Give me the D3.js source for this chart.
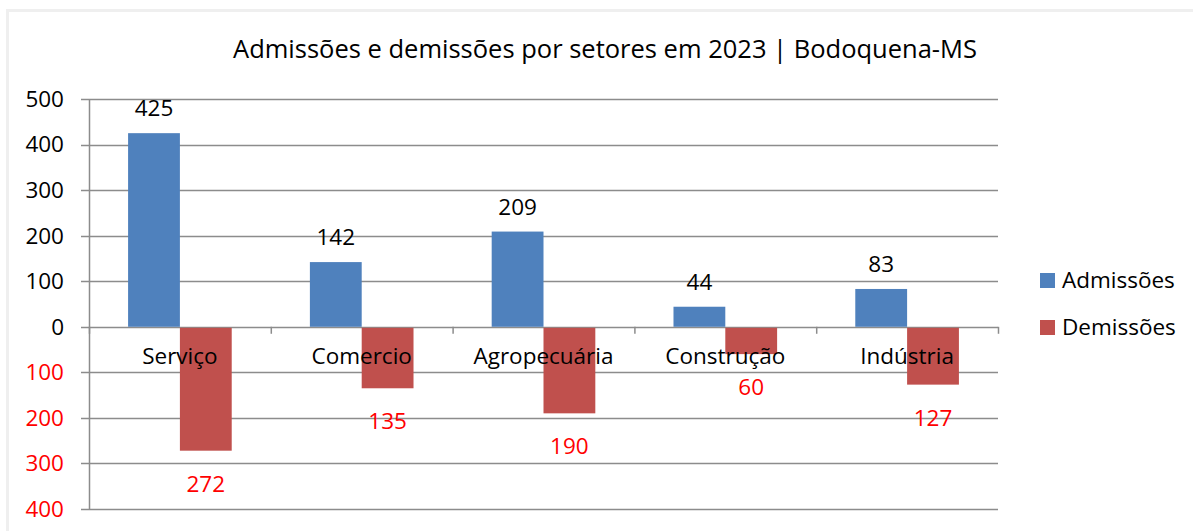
<!DOCTYPE html>
<html>
<head>
<meta charset="utf-8">
<script src="https://cdn.jsdelivr.net/npm/d3@7"></script>
<style>
  body { margin: 0; background: #fff; }
  text { font-family: "Open Sans", "Noto Sans", sans-serif; }
</style>
</head>
<body>
<div id="chart-area"></div>
<script>

// Data
var sectors = ["Serviço", "Comercio", "Agropecuária", "Construção", "Indústria"];
var admissoes = [425, 142, 209, 44, 83];
var demissoes = [272, 135, 190, 60, 127];
var yTicks = [-400, -300, -200, -100, 0, 100, 200, 300, 400, 500];
var seriesNames = ["Admissões", "Demissões"];
var seriesColors = ["#4F81BD", "#C0504D"];

var W = 1193, H = 531;
var margin = {top: 99, right: 195, bottom: 22, left: 89};
var width = W - margin.left - margin.right,
    height = H - margin.top - margin.bottom;
var fs = 22.5;

var svg = d3.select("#chart-area").append("svg")
    .attr("width", W)
    .attr("height", H);

// outer frame
svg.append("rect")
    .attr("x", 7.5).attr("y", 10.5)
    .attr("width", 1200).attr("height", 540)
    .attr("fill", "none")
    .attr("stroke", "#efefef")
    .attr("stroke-width", 3);

svg.append("text")
    .attr("x", 605)
    .attr("y", 58)
    .attr("text-anchor", "middle")
    .attr("font-size", 25.5)
    .attr("fill", "#000")
    .text("Admissões e demissões por setores em 2023 | Bodoquena-MS");

var g = svg.append("g")
    .attr("transform", "translate(" + margin.left + "," + margin.top + ")");

var x = d3.scaleBand()
    .domain(sectors)
    .range([0, width]);

var y = d3.scaleLinear()
    .domain([-400, 500])
    .range([height, 0]);

// gridlines
g.selectAll(".grid")
    .data(yTicks)
    .enter().append("line")
    .attr("class", "grid")
    .attr("x1", -8)
    .attr("x2", width)
    .attr("y1", function(d) { return Math.round(y(d)) + 0.5; })
    .attr("y2", function(d) { return Math.round(y(d)) + 0.5; })
    .attr("stroke", "#8c8c8c")
    .attr("stroke-width", 1.5);

// y axis line
g.append("line")
    .attr("x1", 0.5).attr("x2", 0.5)
    .attr("y1", 0).attr("y2", height)
    .attr("stroke", "#8c8c8c")
    .attr("stroke-width", 1.5);

// y tick labels (negatives drawn in red without sign)
g.selectAll(".ytick")
    .data(yTicks)
    .enter().append("text")
    .attr("class", "ytick")
    .attr("x", -25)
    .attr("y", function(d) { return y(d); })
    .attr("dy", "0.35em")
    .attr("text-anchor", "end")
    .attr("font-size", fs)
    .attr("fill", function(d) { return d < 0 ? "#ff0000" : "#000"; })
    .text(function(d) { return Math.abs(d); });

// category tick marks on zero line
g.selectAll(".xtick")
    .data(d3.range(sectors.length + 1))
    .enter().append("line")
    .attr("x1", function(i) { return i * x.bandwidth() + 0.5; })
    .attr("x2", function(i) { return i * x.bandwidth() + 0.5; })
    .attr("y1", y(0))
    .attr("y2", y(0) + 7)
    .attr("stroke", "#8c8c8c")
    .attr("stroke-width", 1.5);

var barW = x.bandwidth() * 0.285;

// bars
g.selectAll(".adm")
    .data(admissoes)
    .enter().append("rect")
    .attr("class", "adm")
    .attr("x", function(d, i) { return x(sectors[i]) + x.bandwidth() / 2 - barW; })
    .attr("y", function(d) { return y(d); })
    .attr("width", barW)
    .attr("height", function(d) { return y(0) - y(d); })
    .attr("fill", seriesColors[0]);

g.selectAll(".dem")
    .data(demissoes)
    .enter().append("rect")
    .attr("class", "dem")
    .attr("x", function(d, i) { return x(sectors[i]) + x.bandwidth() / 2; })
    .attr("y", y(0) + 1)
    .attr("width", barW)
    .attr("height", function(d) { return y(-d) - y(0) - 1; })
    .attr("fill", seriesColors[1]);

// category labels
g.selectAll(".cat")
    .data(sectors)
    .enter().append("text")
    .attr("class", "cat")
    .attr("x", function(d) { return x(d) + x.bandwidth() / 2; })
    .attr("y", y(0) + 37)
    .attr("text-anchor", "middle")
    .attr("font-size", fs)
    .attr("fill", "#000")
    .text(function(d) { return d; });

// value labels
g.selectAll(".admlbl")
    .data(admissoes)
    .enter().append("text")
    .attr("x", function(d, i) { return x(sectors[i]) + x.bandwidth() / 2 - barW / 2; })
    .attr("y", function(d) { return y(d) - 17; })
    .attr("text-anchor", "middle")
    .attr("font-size", fs)
    .attr("fill", "#000")
    .text(function(d) { return d; });

g.selectAll(".demlbl")
    .data(demissoes)
    .enter().append("text")
    .attr("x", function(d, i) { return x(sectors[i]) + x.bandwidth() / 2 + barW / 2; })
    .attr("y", function(d) { return y(-d) + 41; })
    .attr("text-anchor", "middle")
    .attr("font-size", fs)
    .attr("fill", "#ff0000")
    .text(function(d) { return d; });

// legend
var legend = svg.selectAll(".legend")
    .data(seriesNames)
    .enter().append("g")
    .attr("transform", function(d, i) { return "translate(1040," + (273 + i * 47) + ")"; });

legend.append("rect")
    .attr("width", 15).attr("height", 15)
    .attr("fill", function(d, i) { return seriesColors[i]; });

legend.append("text")
    .attr("x", 22)
    .attr("y", 7.5)
    .attr("dy", "0.35em")
    .attr("font-size", fs)
    .attr("fill", "#000")
    .text(function(d) { return d; });

</script>
</body>
</html>
